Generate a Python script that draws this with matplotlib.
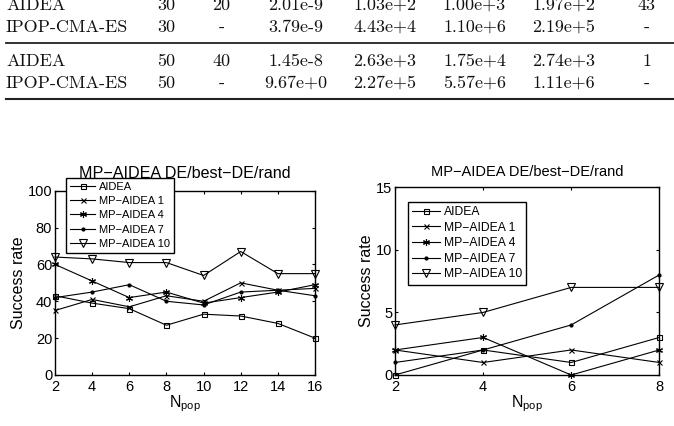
import matplotlib
matplotlib.use("Agg")
import matplotlib.pyplot as plt

plt.rcParams["font.family"] = ["Liberation Sans", "DejaVu Sans"]
plt.rcParams["mathtext.default"] = "regular"
plt.rcParams["axes.unicode_minus"] = False

# table fragment at the top of the page
table_rows = [
    ["AIDEA", "30", "20", "2.01e-9", "1.03e+2", "1.00e+3", "1.97e+2", "43"],
    ["IPOP-CMA-ES", "30", "-", "3.79e-9", "4.43e+4", "1.10e+6", "2.19e+5", "-"],
    ["AIDEA", "50", "40", "1.45e-8", "2.63e+3", "1.75e+4", "2.74e+3", "1"],
    ["IPOP-CMA-ES", "50", "-", "9.67e+0", "2.27e+5", "5.57e+6", "1.11e+6", "-"],
]

# left panel
npop_left = [2, 4, 6, 8, 10, 12, 14, 16]
left_aidea = [43, 39, 36, 27, 33, 32, 28, 20]
left_mp1 = [35, 41, 37, 43, 40, 50, 46, 47]
left_mp4 = [60, 51, 42, 45, 39, 42, 45, 49]
left_mp7 = [42, 45, 49, 40, 38, 45, 46, 43]
left_mp10 = [64, 63, 61, 61, 54, 67, 55, 55]

# right panel
npop_right = [2, 4, 6, 8]
right_aidea = [0, 2, 1, 3]
right_mp1 = [2, 1, 2, 1]
right_mp4 = [2, 3, 0, 2]
right_mp7 = [1, 2, 4, 8]
right_mp10 = [4, 5, 7, 7]

labels = ["AIDEA", "MP\u2212AIDEA 1", "MP\u2212AIDEA 4", "MP\u2212AIDEA 7", "MP\u2212AIDEA 10"]
markers = [("s", 3.6), ("x", 3.6), ((6, 2, 0), 5.0), ("o", 2.2), ("v", 6.0)]
title = "MP\u2212AIDEA DE/best\u2212DE/rand"

W, H = 674, 426
fig = plt.figure(figsize=(W / 100, H / 100), dpi=100)

# ---- table ----
col_x = [6, 166.5, 221.5, 295.5, 384.5, 474.5, 564, 646.5]
row_y = [9.5, 31.5, 66, 87.5]
for row, yb in zip(table_rows, row_y):
    for j, (txt, xc) in enumerate(zip(row, col_x)):
        fig.text(xc / W, 1 - yb / H, txt, ha="left" if j == 0 else "center",
                 va="baseline", fontsize=13, family=["cmr10", "DejaVu Serif"], color="#111111")
for yl, lw in [(43.3, 1.3), (99.3, 1.5)]:
    fig.add_artist(plt.Line2D([6 / W, 1.0], [1 - yl / H, 1 - yl / H],
                              transform=fig.transFigure, color="#222222", lw=lw))


def panel(rect, x, series, ylim, yticks, xticks, title_size, title_pad, leg_anchor, leg_size, leg_spacing):
    ax = fig.add_axes(rect)
    for ys, (m, ms), lab in zip(series, markers, labels):
        ax.plot(x, ys, color="black", lw=0.8, marker=m, ms=ms, mfc="none" if m in ("s", "v") else "black",
                mec="black", mew=0.8, label=lab, clip_on=False)
    ax.set_xlim(x[0], x[-1])
    ax.set_ylim(*ylim)
    ax.set_xticks(xticks)
    ax.set_yticks(yticks)
    ax.tick_params(direction="in", top=True, right=True, length=2.5, width=0.8, labelsize=10.5)
    ax.tick_params(axis="x", pad=3.5)
    ax.tick_params(axis="y", pad=2)
    for s in ax.spines.values():
        s.set_linewidth(1.0)
    ax.set_title(title, fontsize=title_size, pad=title_pad)
    ax.set_xlabel("N$_{pop}$", fontsize=11.5, labelpad=0)
    ax.set_ylabel("Success rate", fontsize=11.5, labelpad=1.5)
    leg = ax.legend(loc="upper left", bbox_to_anchor=(leg_anchor[0] / W, 1 - leg_anchor[1] / H),
                    bbox_transform=fig.transFigure, borderaxespad=0, fontsize=leg_size,
                    fancybox=False, framealpha=1, edgecolor="black", numpoints=1,
                    handlelength=2.3, handletextpad=0.3, labelspacing=leg_spacing, borderpad=0.35)
    leg.get_frame().set_linewidth(1.0)
    return ax


panel([55 / W, 1 - 375 / H, 260 / W, (375 - 190.7) / H], npop_left,
      [left_aidea, left_mp1, left_mp4, left_mp7, left_mp10], (0, 100), range(0, 101, 20), npop_left,
      11.6, 8.8, (66, 178), 8, 0.38)
panel([395 / W, 1 - 375 / H, 264.3 / W, (375 - 187.3) / H], npop_right,
      [right_aidea, right_mp1, right_mp4, right_mp7, right_mp10], (0, 15), [0, 5, 10, 15], npop_right,
      10.5, 8.1, (408, 201.7), 8.7, 0.3)

fig.savefig("out.png", dpi=100)
